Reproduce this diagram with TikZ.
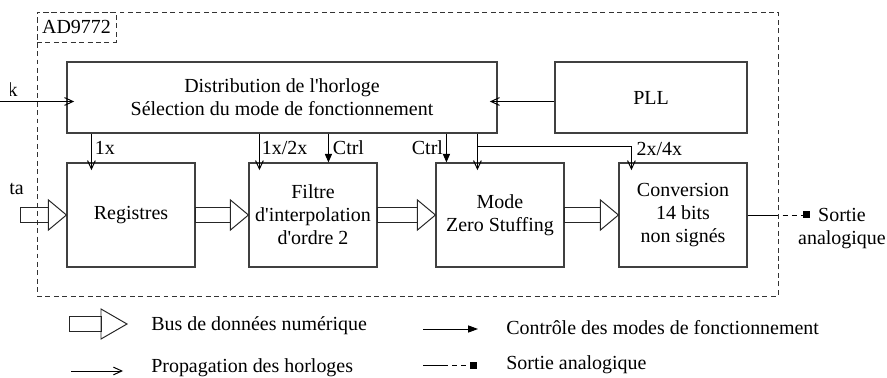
\documentclass[tikz,border=0pt]{standalone}
\usepackage{fontspec}
\setmainfont{Liberation Serif}
\usetikzlibrary{arrows.meta,positioning,calc}

% hollow data-bus arrow: start, end, head length
\newcommand{\busarrow}[3]{%
  \draw[busline] ($(#1)+(0,0.1875)$) rectangle ($(#2)+(-#3,-0.1875)$);
  \draw[busline] ($(#2)+(-#3,0.375)$) -- (#2) -- ($(#2)+(-#3,-0.375)$) -- cycle;
}

\begin{document}
\begin{tikzpicture}[
    font=\fontsize{14.2}{16.4}\selectfont,
    blk/.style={draw=black!75, line width=0.8pt, minimum width=3.2cm, minimum height=2.6cm, align=center, inner sep=2pt},
    wide/.style={draw=black!75, line width=0.8pt, minimum height=1.775cm, align=center},
    chip/.style={draw=black!80, line width=0.7pt, dash pattern=on 3.5pt off 2.5pt},
    lbl/.style={inner sep=0pt},
    busline/.style={draw=black!85, line width=0.7pt},
    clkarr/.style={-{Straight Barb[length=6pt,width=5.5pt]}, line width=0.7pt, shorten >=-5.5pt},
    ctlarr/.style={-{Triangle[length=6pt,width=5pt]}, line width=0.7pt},
    outdash/.style={line width=0.7pt, dash pattern=on 3.5pt off 3pt},
    sqr/.style={fill, minimum size=0.175cm, inner sep=0pt}
  ]
    \useasboundingbox (0,0) rectangle (22.175,-9.45);

    % Chip outline
    \node[chip, minimum width=18.525cm, minimum height=7.1cm] (chip) at (10.1875,-3.85) {};
    \node[chip, anchor=north west, minimum width=1.975cm, minimum height=0.75cm, inner sep=1pt] (chipname) at (chip.north west) {AD9772};

    % Clock stage
    \node[wide, minimum width=10.75cm] (dist) at (7.05,-2.4375)
      {Distribution de l\textquotesingle horloge\\Sélection du mode de fonctionnement};
    \node[wide, minimum width=4.8cm] (pll) at (16.275,-2.4375) {PLL};

    % Data path
    \node[blk] (reg)  at (3.275,-5.375) {Registres};
    \node[blk] (filt) at (7.825,-5.375) {Filtre\\d\textquotesingle interpolation\\d\textquotesingle ordre 2};
    \node[blk] (mode) at (12.5,-5.375)  {Mode\\Zero Stuffing};
    \node[blk] (conv) at (17.075,-5.375) {Conversion\\14 bits\\non signés};

    % Inputs (cut at the left edge)
    \coordinate (clkin) at (0,-2.5375);
    \coordinate (datain) at (0.5,-5.375);
    \begin{scope}
      \clip (0.27,-1.5) rectangle (1,-6);
      \node[lbl, anchor=east] (clkname) at (0.45,-2.25) {Clock};
      \node[lbl, anchor=east] (dataname) at (0.6,-4.7) {Data};
    \end{scope}

    % Clock distribution
    \draw[clkarr] (clkin) -- (clkin -| dist.west);
    \draw[clkarr] ([yshift=-0.1cm]pll.west) -- ([yshift=-0.1cm]dist.east);

    \coordinate (t1x)   at ($(reg.north west)+(0.625,0)$);
    \coordinate (t12x)  at ($(filt.north west)+(0.275,0)$);
    \coordinate (tc1)   at ($(filt.north west)+(2.0,0)$);
    \coordinate (tc2)   at ($(mode.north west)+(0.275,0)$);
    \coordinate (tmode) at ($(mode.north west)+(1.05,0)$);
    \coordinate (tsplit) at ($(tmode)+(0,0.4)$);
    \coordinate (tconv) at ($(conv.north west)+(0.325,0)$);

    \draw[clkarr] (t1x |- dist.south) -- (t1x) node[lbl, midway, right=0.075cm] (l1x) {1x};
    \draw[clkarr] (t12x |- dist.south) -- (t12x) node[lbl, midway, right=0.05cm] (l12x) {1x/2x};
    \draw[clkarr] (tmode |- dist.south) -- (tmode);
    \draw[clkarr] (tsplit) -| (tconv);
    \node[lbl, anchor=west] (l24x) at ($(tconv)+(0.125,0.325)$) {2x/4x};

    % Mode control
    \draw[ctlarr] (tc1 |- dist.south) -- (tc1) node[lbl, midway, right=0.1cm] (lc1) {Ctrl};
    \draw[ctlarr] (tc2 |- dist.south) -- (tc2) node[lbl, midway, left=0.075cm] (lc2) {Ctrl};

    % Data buses
    \busarrow{datain}{reg.west}{0.45}
    \busarrow{reg.east}{filt.west}{0.45}
    \busarrow{filt.east}{mode.west}{0.45}
    \busarrow{mode.east}{conv.west}{0.45}

    % Analog output
    \coordinate (brk) at ($(conv.east)+(0.65,0)$);
    \node[sqr] (outsq) at ($(conv.east)+(1.475,0)$) {};
    \node[align=center, inner sep=0pt] (outname) at (21.05,-5.725) {Sortie\\analogique};
    \draw[line width=0.7pt] (conv.east) -- (brk);
    \draw[outdash] (brk) -- (outsq);

    % Legend
    \coordinate (kbus0) at (1.725,-8.1);
    \coordinate (kbus1) at (3.175,-8.1);
    \busarrow{kbus0}{kbus1}{0.65}
    \node[lbl, anchor=west] (kbustxt) at (3.775,-8.15) {Bus de données numérique};

    \coordinate (kclk0) at (1.775,-9.275);
    \coordinate (kclk1) at (3.075,-9.275);
    \draw[clkarr, shorten >=0pt] (kclk0) -- (kclk1);
    \node[lbl, anchor=west] (kclktxt) at (3.775,-9.2) {Propagation des horloges};

    \coordinate (kctl0) at (10.575,-8.225);
    \coordinate (kctl1) at (11.95,-8.225);
    \draw[ctlarr, {Triangle[length=7pt,width=5pt]}-] (kctl1) -- (kctl0);
    \node[lbl, anchor=west] (kctltxt) at (12.65,-8.2) {Contrôle des modes de fonctionnement};

    \coordinate (kout0) at (10.575,-9.125);
    \coordinate (kout1) at (11.075,-9.125);
    \node[sqr] (koutsq) at (11.8375,-9.125) {};
    \draw[line width=0.7pt] (kout0) -- (kout1);
    \draw[outdash] (kout1) -- (koutsq);
    \node[lbl, anchor=west] (kouttxt) at (12.65,-9.125) {Sortie analogique};
\end{tikzpicture}
\end{document}
